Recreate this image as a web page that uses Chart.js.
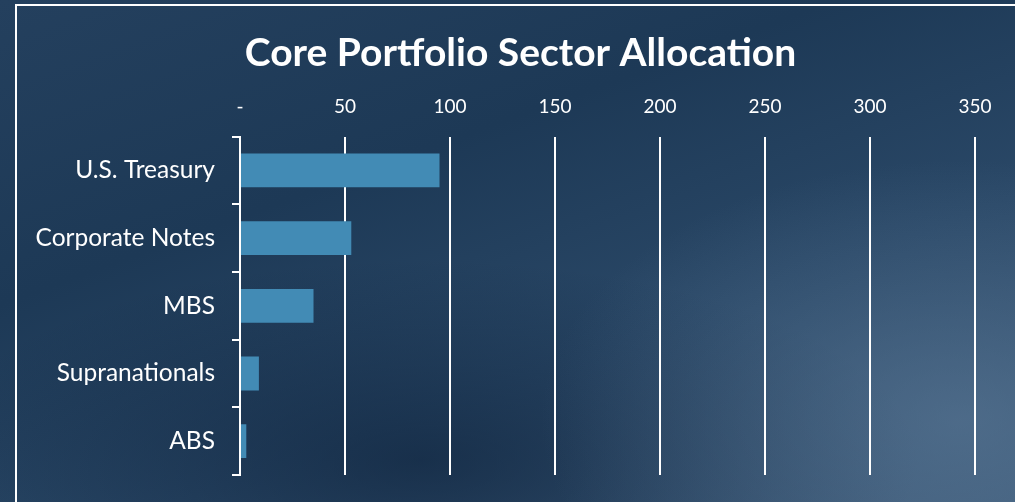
<!DOCTYPE html>
<html>
<head>
<meta charset="utf-8">
<script src="https://cdn.jsdelivr.net/npm/chart.js@4.4.0/dist/chart.umd.min.js"></script>
<style>
  html, body { margin: 0; padding: 0; }
  body {
    width: 1015px; height: 502px; overflow: hidden; position: relative;
    background:
      radial-gradient(ellipse 420px 260px at 960px 420px, rgba(95,125,155,0.55), rgba(95,125,155,0) 100%),
      radial-gradient(ellipse 500px 200px at 420px 460px, rgba(10,30,55,0.6), rgba(10,30,55,0) 100%),
      linear-gradient(160deg, #24405e 0%, #1d3956 35%, #2a4867 65%, #3d5a78 100%);
  }
  #frame {
    position: absolute; left: 15px; top: 4px; width: 1010px; height: 510px;
    border-top: 2px solid #fff; border-left: 2px solid #fff;
  }
  #wrap { position: absolute; left: 0; top: 0; width: 1015px; height: 502px; }
</style>
</head>
<body>
<div id="frame"></div>
<div id="wrap"><canvas id="chart"></canvas></div>
<script>
// sector allocation
const sectors = ['U.S. Treasury', 'Corporate Notes', 'MBS', 'Supranationals', 'ABS'];
const allocation = [95, 53, 35, 9, 3];
const xMax = 350;
const xStep = 50;

Chart.defaults.font.family = 'Lato, "Open Sans", sans-serif';
Chart.defaults.color = '#ffffff';

// title in the original sits a bit right of the canvas centre
const shiftTitle = {
    id: 'shiftTitle',
    afterLayout(chart) {
        if (chart.titleBlock) chart.titleBlock.left += 46;
    }
};

const ctx = document.getElementById('chart');
const myChart = new Chart(ctx, {
    type: 'bar',
    data: {
        labels: sectors,
        datasets: [{
            label: 'Allocation',
            data: allocation,
            backgroundColor: '#428bb5',
            borderWidth: 0,
            barPercentage: 0.5,
            categoryPercentage: 1.0
        }]
    },
    options: {
        indexAxis: 'y',
        responsive: true,
        maintainAspectRatio: false,
        animation: false,
        layout: { padding: { left: 20, right: 40, top: 30, bottom: 27 } },
        plugins: {
            legend: { display: false },
            tooltip: { enabled: false },
            title: {
                display: true,
                text: 'Core Portfolio Sector Allocation',
                color: '#ffffff',
                font: { size: 39, weight: 'bold' },
                padding: { top: 0, bottom: 1 }
            }
        },
        scales: {
            x: {
                position: 'top',
                min: 0,
                max: xMax,
                ticks: {
                    stepSize: xStep,
                    color: '#ffffff',
                    font: { size: 19 },
                    padding: 18,
                    callback: v => v === 0 ? '-' : v
                },
                grid: {
                    color: ctx => ctx.tick && ctx.tick.value === 0 ? 'rgba(0,0,0,0)' : '#ffffff',
                    lineWidth: 2,
                    drawTicks: false
                },
                border: { display: false }
            },
            y: {
                afterFit: scale => {
                    scale.width = 220;
                    scale.paddingTop = 0;
                    scale.paddingBottom = 0;
                },
                ticks: {
                    color: '#ffffff',
                    font: { size: 24.5 },
                    padding: 17
                },
                grid: {
                    offset: true,
                    drawOnChartArea: false,
                    drawTicks: true,
                    tickLength: 8,
                    color: '#ffffff',
                    lineWidth: 2
                },
                border: { display: true, color: '#ffffff', width: 2 }
            }
        }
    },
    plugins: [shiftTitle]
});
</script>
</body>
</html>
